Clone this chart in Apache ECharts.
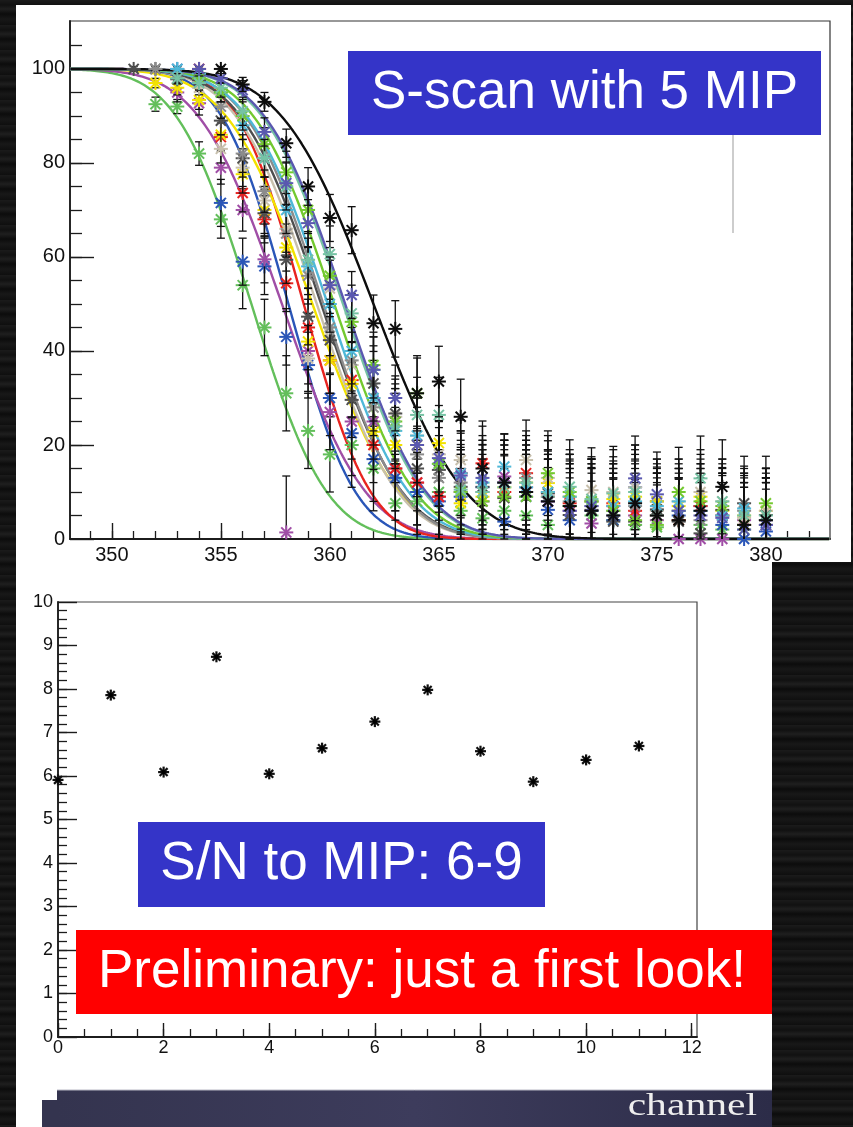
<!DOCTYPE html>
<html><head><meta charset="utf-8">
<script src="https://cdn.jsdelivr.net/npm/echarts@6/dist/echarts.min.js"></script>
<style>
html,body{margin:0;padding:0;width:853px;height:1127px;overflow:hidden;
background:repeating-linear-gradient(180deg,#1b1b1b 0px,#111 5px,#1f1f1f 9px,#0c0c0c 14px,#181818 19px,#0f0f0f 25px);}
#chart{width:853px;height:1127px;}
</style></head>
<body><div id="chart"></div>
<script>
// ---------------- DATA: top panel (S-scan, 13 channels) ----------------
const scanX = [351,352,353,354,355,356,357,358,359,360,361,362,363,364,365,366,367,368,369,370,371,372,373,374,375,376,377,378,379,380];
const channelNames  = ['green','blue','magenta','red','yellow','beige','darkgray','gray','cyan','lightgreen','teal','indigo','black'];
const channelColors = ['#63bf5b','#2a56b8','#a04ea6','#e8231f','#f2e200','#c8c0ad','#4f4f4f','#8c8c8c','#4fb8d8','#73c92f','#76c3a4','#5a58b0','#0d0d0d'];
// fitted S-curve parameters (50% point and width)
const fitMean  = [356.4, 358.1, 357.8, 358.8, 359.2, 359.4, 359.6, 359.7, 359.9, 360.2, 360.6, 360.7, 362.0];
const fitWidth = [2.7,   2.4,   3.0,   2.4,   3.1,   2.9,   2.9,   2.8,   2.9,   2.9,   2.9,   2.9,   3.3];

const greenVals = [null,92.5,92,82,68,54,45,31,23,18,20,15,7.6,8,10,6,4.4,6,5,3,7,5,4,3,2.5,4,3,2,2,3];
const greenErr  = [null,1.5,1.5,2.5,4,5,6,8,8,8,9,9,9,9,9,9,9,9,9,9,9,9,9,9,9,9,9,9,9,9];
const blueVals  = [null,null,100,97,71.5,59,58,43,37,30,22.5,17,13,10,8,9,11,3.7,9,6.2,4,6,4,11,8,5,7,3,0,1.6];
const blueErr   = [null,null,0.5,1.5,5,5,6,6,7,8,9,9,9,9,9,9,9,9,9,9,9,9,9,9,9,9,9,9,0,9];
const magentaVals = [null,null,95,92.7,79,70,59.5,1.4,40,27,25,25,15,12,9,10,8,13.3,11,8,6,3.3,7,5,4,0,0,0,4,3];
const magentaErr  = [null,null,2,2.5,3.5,4.5,5,12,7,8,8,8,9,9,9,9,9,9,9,9,9,9,9,9,9,0,0,0,9,9];
const redVals   = [null,null,null,100,85.5,73.6,68,54.4,45,38,33.8,20,15,12,9,14,16.1,10,14,9,7.6,8,7.6,6,5,4,7,5,3,4];
const redErr    = [null,null,null,0.5,3,4,5,6,6,7,8,8,9,9,9,9,9,9,9,9,9,9,9,9,9,9,9,9,9,9];
const yellowVals = [null,97,96,93.4,86,77.6,70,62,42,38,33,22.8,20,20,20.4,7.6,9,11,12,11.9,9,8,8.5,9,8,7,9,6,5,6];
const yellowErr  = [null,1,1.5,2,3,4,5,5,6,7,7,8,8,8,8,9,9,9,9,9,9,9,9,9,9,9,9,9,9,9];
const beigeVals = [null,null,98,96,83,79,72,66,38.4,53.3,37,30,26,22,18,16.8,12,12,16.8,13,9,10.4,10,11,6,8,10,8,4.5,6];
const beigeErr  = [null,null,1,1.5,3,4,5,5,7,6,7,7,8,8,8,8.5,9,9,8.5,9,9,9,9,9,9,9,9,9,9,9];
const darkgrayVals = [100,100,97.8,97.6,89,81,69.3,59.4,47.3,42.3,29.6,33.1,26.7,15,14.7,11.1,11.1,8.7,10,9.7,5.1,6.2,3.7,3.7,6.3,3.7,1.2,6.2,7.6,5.1];
const darkgrayErr  = [0.5,0.5,1,1,3,4,5,5,6,7,8,8,8,9,9,9,9,9,9,9,9,9,9,9,9,9,9,9,10,10];
const grayVals  = [null,100,99,98,92,82,74,65,56,45,38,28,24,18,13,12,10,12,13,10,8,7,6,7,5,6,4,5,6,4];
const grayErr   = [null,0.5,1,1,2.5,4,4.5,5,6,6,7,8,8,9,9,9,9,9,9,9,9,9,9,9,9,9,9,9,9,9];
const cyanVals  = [null,null,100,99,95,88,81,70,58,50,40,30,23,22,16,14,12,15.4,11,10,9,8,7,8,7,8,6,5,6.5,4];
const cyanErr   = [null,null,0.5,1,2,3,4,5,6,6,7,8,8,8,9,9,9,7,9,9,9,9,9,9,9,9,9,9,9,9];
const lightgreenVals = [null,null,null,98,95,90,84,78,70,56,46.2,37,25,31,16,10,8,9,9,14,10,8,6,4,3,10,8,7,3,7.6];
const lightgreenErr  = [null,null,null,1,2,3,3.5,4.5,5,6,6,7,8,8,9,9,9,9,9,9,9,9,9,9,9,9.5,9,9,9,10];
const tealVals  = [null,null,98,97,96,91,81,75,59.4,60.6,48,36,24,26.4,26.4,10.5,10,11,12,9,11.1,8.5,9.7,10,5,6,12.9,8,5,5];
const tealErr   = [null,null,1,1.5,2,3,4,5,6,6,6,7,8,8,8,9,9,9,9,9,10,9,10,9,9,9,9,9,9,9];
const indigoVals = [null,null,null,100,98,95.5,86.6,75.7,67.2,54,51.9,36,30,20,17.2,13.5,13,12,10,8,6,7,5,12.9,9.5,6,5,4.5,2,3];
const indigoErr  = [null,null,null,0.5,1,2,3,4.5,5,6,5,7,7,8,8,9,9,9,9,9,9,9,9,9,9,9,9,9,9,9];
const blackVals = [null,null,null,null,100,96.7,93,84.2,75,68.3,65.7,45.9,44.7,31,33.5,26,15,12,10,8,7,6,5,7.6,5,4,6,11.1,3,4];
const blackErr  = [null,null,null,null,0.5,1.5,2,3,4,5,5,6,6,7.5,7.5,8,9,9,9,9,9,9,9,9,9,9,9,10,9,9];

const channelVals = [greenVals,blueVals,magentaVals,redVals,yellowVals,beigeVals,darkgrayVals,grayVals,cyanVals,lightgreenVals,tealVals,indigoVals,blackVals];
const channelErrs = [greenErr,blueErr,magentaErr,redErr,yellowErr,beigeErr,darkgrayErr,grayErr,cyanErr,lightgreenErr,tealErr,indigoErr,blackErr];

// ---------------- DATA: bottom panel (S/N per channel) ----------------
const snChannel = [0,1,2,3,4,5,6,7,8,9,10,11];
const snValue   = [5.91,7.86,6.09,8.74,6.05,6.64,7.25,7.98,6.57,5.87,6.37,6.69];

// ---------------- tick positions ----------------
const topXMajor = [350,355,360,365,370,375,380];
const topXMinor = [349,350,351,352,353,354,355,356,357,358,359,360,361,362,363,364,365,366,367,368,369,370,371,372,373,374,375,376,377,378,379,380,381,382];
const topYMajor = [0,20,40,60,80,100];
const topYMinor = [5,10,15,20,25,30,35,40,45,50,55,60,65,70,75,80,85,90,95,100,105];
const botXMajor = [0,2,4,6,8,10,12];
const botXMinor = []; for (let i = 1; i <= 24; i++) botXMinor.push(i * 0.5);
const botYMajor = [0,1,2,3,4,5,6,7,8,9,10];
const botYMinor = []; for (let i = 1; i < 50; i++) botYMinor.push(Math.round(i * 2) / 10);

// ---------------- helpers ----------------
function erfc(x) {
  const z = Math.abs(x), t = 1 / (1 + 0.5 * z);
  const r = t * Math.exp(-z*z - 1.26551223 + t*(1.00002368 + t*(0.37409196 + t*(0.09678418 + t*(-0.18628806 + t*(0.27886807 + t*(-1.13520398 + t*(1.48851587 + t*(-0.82215223 + t*0.17087277)))))))));
  return x >= 0 ? r : 2 - r;
}
const fitX = []; for (let i = 0; i <= 348; i++) fitX.push(348.1 + i * 0.1);

function star(cx, cy, r, color, lw) {
  const d = r * 0.72;
  const st = {stroke: color, lineWidth: lw};
  return [
    {type:'line', shape:{x1:cx-r,y1:cy,x2:cx+r,y2:cy}, style:st},
    {type:'line', shape:{x1:cx,y1:cy-r,x2:cx,y2:cy+r}, style:st},
    {type:'line', shape:{x1:cx-d,y1:cy-d,x2:cx+d,y2:cy+d}, style:st},
    {type:'line', shape:{x1:cx-d,y1:cy+d,x2:cx+d,y2:cy-d}, style:st}
  ];
}

function renderScan(params, api) {
  const x = api.value(0), y = api.value(1), e = api.value(2), ci = api.value(3);
  const p = api.coord([x, y]);
  const children = [];
  if (e > 0) {
    const lowV = Math.max(y - e, 0);
    const lo = api.coord([x, lowV]);
    const hi = api.coord([x, y + e]);
    const es = {stroke:'#111', lineWidth:1.3};
    children.push({type:'line', shape:{x1:p[0],y1:lo[1],x2:p[0],y2:hi[1]}, style:es});
    children.push({type:'line', shape:{x1:p[0]-4,y1:hi[1],x2:p[0]+4,y2:hi[1]}, style:es});
    if (y - e >= 0) children.push({type:'line', shape:{x1:p[0]-4,y1:lo[1],x2:p[0]+4,y2:lo[1]}, style:es});
  }
  star(p[0], p[1], 7, channelColors[ci], 2).forEach(c => children.push(c));
  return {type:'group', children};
}

function renderSN(params, api) {
  const p = api.coord([api.value(0), api.value(1)]);
  const ch = star(p[0], p[1], 5.5, '#111', 2.2);
  ch.push({type:'circle', shape:{cx:p[0], cy:p[1], r:2.2}, style:{fill:'#000'}});
  return {type:'group', children: ch};
}

// ---------------- series ----------------
const series = [];
channelNames.forEach((name, ci) => {
  series.push({
    type:'line', name: name + ' fit', xAxisIndex:0, yAxisIndex:0,
    data: fitX.map(x => [x, 50 * erfc((x - fitMean[ci]) / (fitWidth[ci] * Math.SQRT2))]),
    showSymbol:false, smooth:false, silent:true, z:2,
    lineStyle:{color: channelColors[ci], width:2.4}
  });
});
channelNames.forEach((name, ci) => {
  const data = [];
  scanX.forEach((x, i) => {
    const v = channelVals[ci][i];
    if (v !== null && v !== undefined) data.push([x, v, channelErrs[ci][i], ci]);
  });
  series.push({
    type:'custom', name: name, xAxisIndex:0, yAxisIndex:0,
    renderItem: renderScan, data, z:3, silent:true,
    encode:{x:0, y:1}
  });
});
series.push({
  type:'custom', name:'S/N', xAxisIndex:2, yAxisIndex:2,
  renderItem: renderSN, data: snChannel.map((c, i) => [c, snValue[i]]), z:3, silent:true,
  encode:{x:0, y:1}
});

// ---------------- axes ----------------
const FONT = "'Liberation Sans', Arial, Helvetica, sans-serif";
const AX = '#1c1c1c';
function majorAxis(grid, min, max, pos, ticks, len, fs, margin) {
  return {
    type:'value', gridIndex:grid, min, max, position:pos,
    axisLine:{show:true, onZero:false, lineStyle:{color:AX, width:1.8}},
    axisTick:{show:true, inside:true, length:len, customValues:ticks, lineStyle:{color:AX, width:1.4}},
    axisLabel:{show:true, customValues:ticks, fontSize:fs, color:'#111', fontFamily:FONT, margin},
    splitLine:{show:false}, minorTick:{show:false}
  };
}
function minorAxis(grid, min, max, pos, ticks, len) {
  return {
    type:'value', gridIndex:grid, min, max, position:pos,
    axisLine:{show:false, onZero:false},
    axisTick:{show:true, inside:true, length:len, customValues:ticks, lineStyle:{color:AX, width:1.3}},
    axisLabel:{show:false}, splitLine:{show:false}
  };
}

const option = {
  animation:false,
  backgroundColor:'transparent',
  grid:[
    {left:70, top:21, width:760, height:518, show:true, borderColor:'#333', borderWidth:1.2, backgroundColor:'transparent'},
    {left:58, top:602, width:639, height:435, show:true, borderColor:'#444', borderWidth:1.2, backgroundColor:'transparent'}
  ],
  xAxis:[
    majorAxis(0, 348.08, 382.94, 'bottom', topXMajor, 16, 20, 6),
    minorAxis(0, 348.08, 382.94, 'bottom', topXMinor, 8),
    majorAxis(1, 0, 12.1, 'bottom', botXMajor, 14, 18, 2),
    minorAxis(1, 0, 12.1, 'bottom', botXMinor, 8)
  ],
  yAxis:[
    majorAxis(0, 0, 110.2, 'left', topYMajor, 24, 20, 5),
    minorAxis(0, 0, 110.2, 'left', topYMinor, 12),
    majorAxis(1, 0, 10, 'left', botYMajor, 19, 18, 5),
    minorAxis(1, 0, 10, 'left', botYMinor, 9)
  ],
  series,
  graphic:[
    // white panels
    {type:'rect', z:-100, shape:{x:16, y:5, width:835, height:557}, style:{fill:'#ffffff'}},
    {type:'rect', z:-100, shape:{x:16, y:560, width:756, height:567}, style:{fill:'#ffffff'}},
    // S-scan box
    {type:'rect', z:100, shape:{x:348, y:51, width:473, height:84}, style:{fill:'#3434c8'}},
    {type:'text', z:101, style:{text:'S-scan with 5 MIP', x:584.5, y:93, textAlign:'center', textVerticalAlign:'middle', align:'center', verticalAlign:'middle', fill:'#ffffff', font:"53px 'Liberation Sans', Arial, sans-serif"}},
    {type:'line', z:100, shape:{x1:733, y1:135, x2:733, y2:233}, style:{stroke:'#bdbdbd', lineWidth:1.5}},
    // S/N box
    {type:'rect', z:100, shape:{x:138, y:822, width:407, height:85}, style:{fill:'#3434c8'}},
    {type:'text', z:101, style:{text:'S/N to MIP: 6-9', x:341.5, y:864, textAlign:'center', textVerticalAlign:'middle', align:'center', verticalAlign:'middle', fill:'#ffffff', font:"53px 'Liberation Sans', Arial, sans-serif"}},
    // Preliminary box
    {type:'rect', z:100, shape:{x:76, y:930, width:696, height:84}, style:{fill:'#ff0000'}},
    {type:'text', z:101, style:{text:'Preliminary: just a first look!', x:422, y:972, textAlign:'center', textVerticalAlign:'middle', align:'center', verticalAlign:'middle', fill:'#ffffff', font:"53px 'Liberation Sans', Arial, sans-serif"}},
    // channel bar
    {type:'rect', z:100, shape:{x:57, y:1090, width:715, height:37}, style:{fill:{type:'linear', x:0, y:0, x2:1, y2:0, colorStops:[{offset:0, color:'#34344f'},{offset:0.5, color:'#3d3c5c'},{offset:1, color:'#2c2c48'}]}}},
    {type:'rect', z:100, shape:{x:42, y:1100, width:16, height:27}, style:{fill:'#34344f'}},
    {type:'line', z:101, shape:{x1:57, y1:1090, x2:772, y2:1090}, style:{stroke:'#b8b8c4', lineWidth:1}},
    {type:'text', z:101, x:757, y:1123, scaleX:1.3, style:{text:'channel', x:0, y:0, textAlign:'right', textVerticalAlign:'bottom', align:'right', verticalAlign:'bottom', fill:'#eeeeee', font:"32px 'Liberation Serif', 'DejaVu Serif', serif"}}
  ]
};

const chart = echarts.init(document.getElementById('chart'), null, {renderer:'canvas'});
chart.setOption(option);
</script>
</body></html>
